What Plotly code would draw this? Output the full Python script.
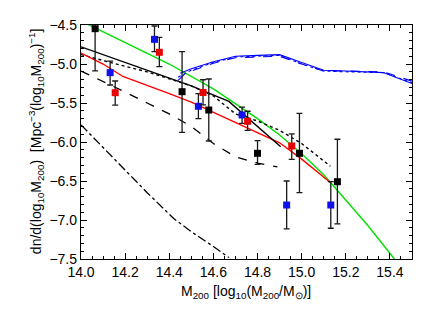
import plotly.graph_objects as go

# ---- model curves ----
green_x = [13.95, 14.0, 14.2, 14.4, 14.6, 14.8, 14.9, 15.0, 15.1, 15.2, 15.3, 15.42, 15.5]
green_y = [-4.38, -4.45, -4.72, -5.00, -5.32, -5.70, -5.91, -6.15, -6.42, -6.74, -7.07, -7.50, -7.78]

red_x = [14.0, 14.1, 14.19, 14.3, 14.4, 14.5, 14.6, 14.7, 14.8, 14.9, 15.0, 15.13]
red_y = [-4.86, -5.00, -5.16, -5.27, -5.38, -5.49, -5.62, -5.76, -5.89, -6.01, -6.22, -6.52]

black_x = [14.0, 14.2, 14.4, 14.5, 14.67, 14.8, 14.905]
black_y = [-4.78, -4.98, -5.19, -5.28, -5.48, -5.80, -6.06]

dotted_x = [14.0, 14.1, 14.2, 14.3, 14.4, 14.5, 14.6, 14.7, 14.8, 14.9, 15.0, 15.13]
dotted_y = [-4.88, -4.96, -5.03, -5.10, -5.19, -5.28, -5.41, -5.64, -5.73, -5.85, -6.02, -6.31]

dashed_x = [14.0, 14.1, 14.2, 14.3, 14.4, 14.5, 14.6, 14.7, 14.8, 14.89]
dashed_y = [-5.09, -5.22, -5.36, -5.50, -5.64, -5.80, -6.02, -6.19, -6.27, -6.32]

dashdot_x = [14.0, 14.1, 14.2, 14.3, 14.42, 14.5, 14.6, 14.67]
dashdot_y = [-5.78, -6.07, -6.37, -6.65, -6.98, -7.15, -7.34, -7.48]

blue_solid_x = [14.45, 14.5, 14.6, 14.7, 14.8, 14.9, 15.0, 15.1, 15.2, 15.3, 15.37, 15.5]
blue_solid_y = [-5.12, -5.06, -4.97, -4.90, -4.89, -4.88, -4.98, -5.08, -5.09, -5.10, -5.11, -5.25]
blue_dash_x = [14.44, 14.47, 14.5, 14.6, 14.7, 14.8, 14.9, 15.0, 15.1, 15.2, 15.3, 15.37, 15.5]
blue_dash_y = [-5.21, -5.13, -5.09, -4.99, -4.92, -4.91, -4.90, -5.00, -5.09, -5.09, -5.10, -5.10, -5.22]
blue_dot_x = [14.44, 14.5, 14.6, 14.7, 14.8, 14.9, 15.0, 15.1, 15.2, 15.3, 15.37, 15.5]
blue_dot_y = [-5.17, -5.08, -4.98, -4.91, -4.90, -4.89, -5.00, -5.09, -5.10, -5.11, -5.11, -5.24]

# ---- data points ----
blk_x = [14.064, 14.458, 14.579, 14.80, 14.99, 15.162]
blk_y = [-4.547, -5.355, -5.59, -6.145, -6.145, -6.509]
blk_up = [0.54, 0.513, 0.398, 0.162, 0.513, 0.544]
blk_dn = [0.54, 0.521, 0.397, 0.141, 0.505, 0.541]

blu_x = [14.132, 14.333, 14.532, 14.73, 14.932, 15.132]
blu_y = [-5.111, -4.684, -5.542, -5.654, -6.808, -6.808]
blu_up = [0.149, 0.171, 0.162, 0.10, 0.308, 0.299]
blu_dn = [0.158, 0.158, 0.158, 0.106, 0.307, 0.298]

red_px = [14.155, 14.355, 14.553, 14.755, 14.955]
red_py = [-5.368, -4.85, -5.365, -5.735, -6.051]
red_up = [0.15, 0.192, 0.163, 0.129, 0.154]
red_dn = [0.158, 0.184, 0.158, 0.115, 0.171]

x_ticks = [14.0, 14.2, 14.4, 14.6, 14.8, 15.0, 15.2, 15.4]
x_labels = ["14.0", "14.2", "14.4", "14.6", "14.8", "15.0", "15.2", "15.4"]
y_ticks = [-7.5, -7.0, -6.5, -6.0, -5.5, -5.0, -4.5]
y_labels = ["−7.5", "−7.0", "−6.5", "−6.0", "−5.5", "−5.0", "−4.5"]

x_title = "M<sub>200</sub> [log<sub>10</sub>(M<sub>200</sub>/M<sub>⊙</sub>)]"
y_title = ("dn/d(log<sub>10</sub>M<sub>200</sub>)  "
           "[Mpc<sup>−3</sup>(log<sub>10</sub>M<sub>200</sub>)<sup>−1</sup>]")

FONT = "Liberation Sans, Arial, sans-serif"

fig = go.Figure()

def line(x, y, color, dash="solid", width=1.4):
    fig.add_trace(go.Scatter(x=x, y=y, mode="lines", showlegend=False,
                             line=dict(color=color, width=width, dash=dash)))

line(green_x, green_y, "#00e000")
line(dashdot_x, dashdot_y, "black", "dashdot", 1.3)
line(dashed_x, dashed_y, "black", "dash", 1.3)
line(dotted_x, dotted_y, "black", "dot", 1.4)
line(red_x, red_y, "#ff0000")
line(black_x, black_y, "black")
line(blue_dash_x, blue_dash_y, "#0000ff", "dash", 1.1)
line(blue_dot_x, blue_dot_y, "#0000ff", "dot", 1.1)
line(blue_solid_x, blue_solid_y, "#0000ff", "solid", 1.1)

def pts(x, y, up, dn, color):
    fig.add_trace(go.Scatter(x=x, y=y, mode="markers", showlegend=False,
                             marker=dict(symbol="square", size=7, color=color),
                             error_y=dict(type="data", array=up, arrayminus=dn,
                                          color="#1a1a1a", thickness=1.3, width=3)))

pts(blk_x, blk_y, blk_up, blk_dn, "black")
pts(blu_x, blu_y, blu_up, blu_dn, "#1010ee")
pts(red_px, red_py, red_up, red_dn, "#e80000")

axis_common = dict(showgrid=False, zeroline=False, showline=True, linecolor="black",
                   linewidth=1.3, mirror="allticks", ticks="inside", tickcolor="black",
                   tickwidth=1.2, ticklen=6, automargin=False,
                   tickfont=dict(family=FONT, size=14, color="black"))

# the page body has an 8px margin, so the figure is sized to fit inside it
fig.update_layout(
    width=420, height=296,
    margin=dict(l=73, r=16, t=17, b=45),
    plot_bgcolor="white", paper_bgcolor="white",
    font=dict(family=FONT, size=14, color="black"),
    xaxis=dict(range=[14.0, 15.5], tickvals=x_ticks, ticktext=x_labels,
               minor=dict(dtick=0.05, ticklen=3, ticks="inside", tickcolor="black", tickwidth=1),
               **axis_common),
    yaxis=dict(range=[-7.5, -4.5], tickvals=y_ticks, ticktext=y_labels,
               minor=dict(dtick=0.1, ticklen=3, ticks="inside", tickcolor="black", tickwidth=1),
               **axis_common),
    annotations=[
        dict(text=x_title, xref="paper", yref="paper", x=0.498, y=-0.14,
             xanchor="center", yanchor="middle", showarrow=False,
             font=dict(family=FONT, size=14, color="black")),
        dict(text=y_title, xref="paper", yref="paper", x=-0.135, y=0.505,
             xanchor="center", yanchor="middle", textangle=-90, showarrow=False,
             font=dict(family=FONT, size=14, color="black")),
    ],
)

fig.write_html("out.html")
